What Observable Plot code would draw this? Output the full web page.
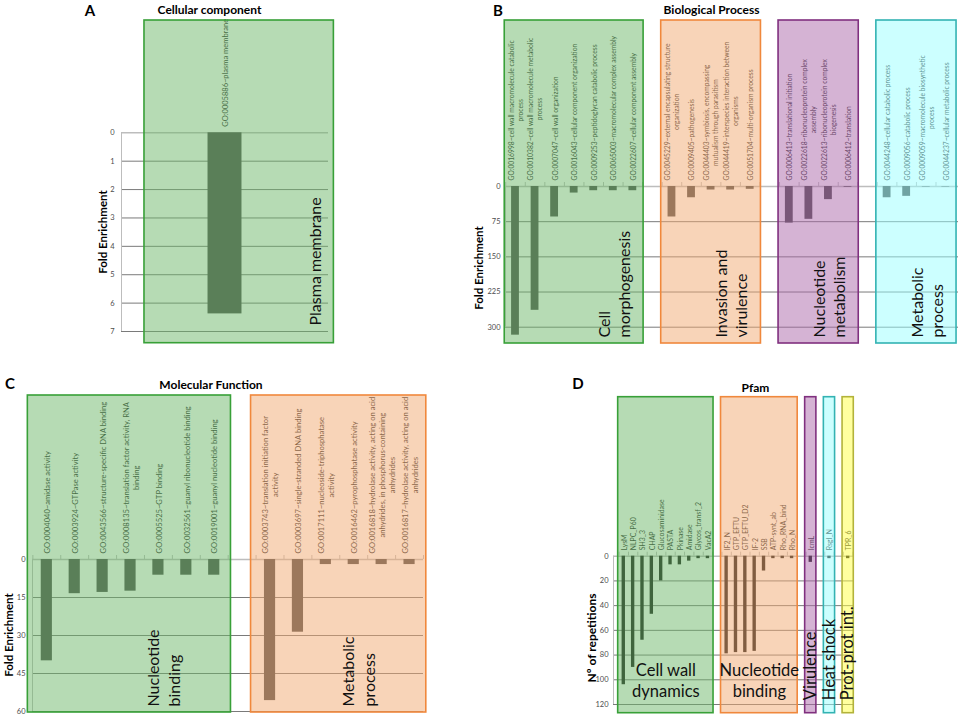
<!DOCTYPE html>
<html><head><meta charset="utf-8">
<script src="https://cdn.jsdelivr.net/npm/d3@7"></script>
<script src="https://cdn.jsdelivr.net/npm/@observablehq/plot@0.6"></script>
<style>
html,body{margin:0;padding:0;background:#fff;}
#fig{position:relative;width:964px;height:721px;overflow:hidden;font-family:Lato,"DejaVu Sans",sans-serif;}
#fig svg{position:absolute;left:0;top:0;}
.t{position:absolute;white-space:nowrap;transform:translate(-50%,-50%);font-weight:700;color:#000;line-height:1;}
.r{transform:translate(-50%,-50%) rotate(-90deg);}
</style></head><body>
<div id="fig">
 <div class="t" style="left:90px;top:10px;font-size:15px">A</div>
 <div class="t" style="left:209.5px;top:10px;font-size:12px">Cellular component</div>
 <div class="t r" style="left:103px;top:232px;font-size:11.5px">Fold Enrichment</div>
 <div class="t" style="left:498px;top:10px;font-size:15px">B</div>
 <div class="t" style="left:711.5px;top:10px;font-size:12px">Biological Process</div>
 <div class="t r" style="left:479px;top:268px;font-size:11.5px">Fold Enrichment</div>
 <div class="t" style="left:10px;top:383px;font-size:15px">C</div>
 <div class="t" style="left:211px;top:385px;font-size:12px">Molecular Function</div>
 <div class="t r" style="left:9px;top:635px;font-size:11.5px">Fold Enrichment</div>
 <div class="t" style="left:578px;top:383px;font-size:15px">D</div>
 <div class="t" style="left:755.5px;top:387.5px;font-size:12px">Pfam</div>
 <div class="t r" style="left:592px;top:638px;font-size:12px">Nº of repetitions</div>
</div>
<script>
// ---------- DATA ----------
// A: Cellular component
const ccLabels = ["GO:0005886~plasma membrane"];
const ccValues = [6.38];
const ccGroupNames = ["Plasma membrane"];
const ccGroupSizes = [1];
const ccGroupKeys = ["green"];
const ccTicks = [0, 1, 2, 3, 4, 5, 6, 7];

// B: Biological Process
const bpLabels = [
  "GO:0016998~cell wall macromolecule catabolic\nprocess",
  "GO:0010382~cell wall macromolecule metabolic\nprocess",
  "GO:0007047~cell wall organization",
  "GO:0016043~cellular component organization",
  "GO:0009253~peptidoglycan catabolic process",
  "GO:0065003~macromolecular complex assembly",
  "GO:0022607~cellular component assembly",
  "GO:0045229~external encapsulating structure\norganization",
  "GO:0009405~pathogenesis",
  "GO:0044403~symbiosis, encompassing\nmutualism through parasitism",
  "GO:0044419~interspecies interaction between\norganisms",
  "GO:0051704~multi-organism process",
  "GO:0006413~translational initiation",
  "GO:0022618~ribonucleoprotein complex\nassembly",
  "GO:0022613~ribonucleoprotein complex\nbiogenesis",
  "GO:0006412~translation",
  "GO:0044248~cellular catabolic process",
  "GO:0009056~catabolic process",
  "GO:0009059~macromolecule biosynthetic\nprocess",
  "GO:0044237~cellular metabolic process"
];
const bpValues = [317, 264, 65, 14, 9, 9, 9, 65, 24, 7.5, 7.5, 6, 78, 70, 28, 1.5, 24, 21, 1, 1];
const bpGroupNames = ["Cell\nmorphogenesis", "Invasion and\nvirulence", "Nucleotide\nmetabolism", "Metabolic\nprocess"];
const bpGroupSizes = [7, 5, 4, 4];
const bpGroupKeys = ["green", "orange", "purple", "cyan"];
const bpTicks = [0, 75, 150, 225, 300];

// C: Molecular Function
const mfLabels = [
  "GO:0004040~amidase activity",
  "GO:0003924~GTPase activity",
  "GO:0043566~structure-specific DNA binding",
  "GO:0008135~translation factor activity, RNA\nbinding",
  "GO:0005525~GTP binding",
  "GO:0032561~guanyl ribonucleotide binding",
  "GO:0019001~guanyl nucleotide binding",
  "GO:0003743~translation initiation factor\nactivity",
  "GO:0003697~single-stranded DNA binding",
  "GO:0017111~nucleoside-triphosphatase\nactivity",
  "GO:0016462~pyrophosphatase activity",
  "GO:0016818~hydrolase activity, acting on acid\nanhydrides, in phosphorus-containing\nanhydrides",
  "GO:0016817~hydrolase activity, acting on acid\nanhydrides"
];
const mfValues = [40, 13.5, 13, 12.5, 6.2, 6.2, 6.2, 55.7, 28.7, 2, 2, 2, 2];
const mfGroupNames = ["Nucleotide\nbinding", "Metabolic\nprocess"];
const mfGroupSizes = [7, 6];
const mfGroupKeys = ["green", "orange"];
const mfTicks = [0, 15, 30, 45, 60];

// D: Pfam
const pfLabels = ["LysM", "NLPC_P60", "SH3_3", "CHAP", "Glucosaminidase", "PASTA", "Pkinase", "Amidase", "Glycos_transf_2", "VacA2",
  "IF2_N", "GTP_EFTU", "GTP_EFTU_D2", "IF-2", "SSB", "ATP-synt_ab", "Rho_RNA_bind", "Rho_N",
  "IcmL", "RsgI_N", "TPR_6"];
const pfValues = [104, 90, 68, 47, 20, 7, 7, 4, 2, 2, 79, 78, 78, 77, 12, 2, 2, 2, 5, 2, 2];
const pfGroupNames = ["Cell wall\ndynamics", "Nucleotide\nbinding", "Virulence", "Heat shock", "Prot-prot int."];
const pfGroupSizes = [10, 8, 1, 1, 1];
const pfGroupKeys = ["green", "orange", "purple", "cyan", "yellow"];
const pfTicks = [0, 20, 40, 60, 80, 100, 120];

// ---------- STYLE ----------
const palette = {
  green:  {fill: "#6db769", stroke: "#38a038"},
  orange: {fill: "#f1a971", stroke: "#f0883c"},
  purple: {fill: "#ab67a9", stroke: "#80307f"},
  cyan:   {fill: "#99ffff", stroke: "#33b3b3"},
  yellow: {fill: "#ffff40", stroke: "#b3b33a"}
};

const ctx = document.createElement("canvas").getContext("2d");
function textWidth(s, size) {
  ctx.font = `${size}px Lato`;
  return d3.max(s.split("\n"), l => ctx.measureText(l).width);
}

function panel(c) {
  const ppu = (c.refPx - c.zeroPx) / c.refTick;
  const yDomain = [(c.frame.top - c.zeroPx) / ppu, (c.frame.bottom - c.zeroPx) / ppu];
  const bars = [], groups = [];
  let i = 0;
  c.sizes.forEach((n, g) => {
    const first = i + g;
    for (let k = 0; k < n; k++, i++) {
      bars.push({label: c.labels[i], value: c.values[i], slot: i + g, key: c.keys[g], w: textWidth(c.labels[i], c.labelSize)});
    }
    groups.push({name: c.names[g], key: c.keys[g], first, last: first + n - 1, n});
  });
  const nSlots = d3.max(bars, d => d.slot) + 1;
  const bounds = d3.range(nSlots + 1).map(s => s - 0.5);
  const gap = 6;
  const marks = [
    Plot.ruleY(c.ticks.filter(t => t !== 0), {stroke: "#7a7a7a", strokeWidth: 1}),
    Plot.ruleY([0], {stroke: "#bdbdbd", strokeWidth: 1.6}),
    Plot.ruleX([c.xDomain[0]], {y1: 0, y2: d3.max(c.ticks), stroke: "#bdbdbd"})
  ];
  if (c.catTicks) marks.push(Plot.ruleX(bounds, {y1: 0, y2: -4 / ppu, stroke: "#bdbdbd"}));
  marks.push(
    Plot.rect(bars, {x1: d => d.slot - c.barHalf, x2: d => d.slot + c.barHalf, y1: 0, y2: "value", fill: c.barColor}),
    Plot.text(bars, {x: "slot", y: d => -(gap + d.w / 2) / ppu, text: "label", rotate: -90,
      textAnchor: "middle", lineAnchor: "middle", fontSize: c.labelSize, lineHeight: c.labelLH, fill: "#1c1c1c"}),
    Plot.rect(groups, {x1: d => d.first - 0.5 - c.boxPad[0], x2: d => d.last + 0.5 + c.boxPad[1],
      y1: yDomain[0], y2: yDomain[1], fill: d => palette[d.key].fill, fillOpacity: 0.5,
      stroke: d => palette[d.key].stroke, strokeWidth: 1.6})
  );
  const gl = c.gl;
  if (gl.mode === "rot") {
    marks.push(Plot.text(groups, {x: d => d.last + gl.offset, y: yDomain[1], text: "name", rotate: -90,
      textAnchor: "start", lineAnchor: "middle", dy: gl.dy, fontSize: gl.size, lineHeight: gl.lh, fill: "#111"}));
  } else {
    marks.push(
      Plot.text(groups.filter(d => d.n > 1), {x: d => (d.first + d.last) / 2, y: yDomain[1], text: "name",
        textAnchor: "middle", lineAnchor: "middle", dy: gl.dyH, fontSize: gl.size, lineHeight: gl.lh, fill: "#111"}),
      Plot.text(groups.filter(d => d.n === 1), {x: "first", y: yDomain[1], text: "name", rotate: -90,
        textAnchor: "start", lineAnchor: "middle", dy: gl.dy, fontSize: gl.size, fill: "#111"})
    );
  }
  marks.push(Plot.axisY({ticks: c.ticks, tickSize: 0, tickPadding: c.tickPadding, fontSize: 7.5, fill: "#4d4d4d", label: null}));
  return Plot.plot({
    width: 964, height: 721,
    marginLeft: c.frame.left, marginRight: 964 - c.frame.right,
    marginTop: c.frame.top, marginBottom: 721 - c.frame.bottom,
    x: {type: "linear", domain: c.xDomain, axis: null},
    y: {type: "linear", domain: yDomain, reverse: true, axis: null, label: null},
    color: {type: "identity"},
    style: {background: "transparent", overflow: "visible", fontFamily: "Lato, sans-serif"},
    marks
  });
}

const fig = document.getElementById("fig");

fig.appendChild(panel({
  labels: ccLabels, values: ccValues, sizes: ccGroupSizes, keys: ccGroupKeys, names: ccGroupNames, ticks: ccTicks,
  frame: {left: 121, right: 328, top: 20, bottom: 342.7}, zeroPx: 132.3, refTick: 7, refPx: 331,
  xDomain: [-0.5, 0.5], barHalf: 0.082, barColor: "#474747", labelSize: 7.5, labelLH: 1.35,
  boxPad: [-0.111, 0.026], catTicks: false, tickPadding: 7,
  gl: {mode: "rot", offset: 0.43, dy: -17.7, size: 16, lh: 1.3}
}));

fig.appendChild(panel({
  labels: bpLabels, values: bpValues, sizes: bpGroupSizes, keys: bpGroupKeys, names: bpGroupNames, ticks: bpTicks,
  frame: {left: 505, right: 958, top: 20, bottom: 343}, zeroPx: 186, refTick: 300, refPx: 326.7,
  xDomain: [-0.511, 22.65], barHalf: 0.2, barColor: "#474747", labelSize: 6.7, labelLH: 1.35,
  boxPad: [0.05, 0.05], catTicks: true, tickPadding: 5,
  gl: {mode: "rot", offset: -1.0, dy: -6, size: 16, lh: 1.27}
}));

fig.appendChild(panel({
  labels: mfLabels, values: mfValues, sizes: mfGroupSizes, keys: mfGroupKeys, names: mfGroupNames, ticks: mfTicks,
  frame: {left: 32, right: 423, top: 395, bottom: 712}, zeroPx: 559, refTick: 60, refPx: 711,
  xDomain: [-0.513, 13.5], barHalf: 0.2, barColor: "#474747", labelSize: 7.6, labelLH: 1.32,
  boxPad: [0.18, 0.1], catTicks: true, tickPadding: 7,
  gl: {mode: "rot", offset: -1.85, dy: -6, size: 16, lh: 1.3}
}));

fig.appendChild(panel({
  labels: pfLabels, values: pfValues, sizes: pfGroupSizes, keys: pfGroupKeys, names: pfGroupNames, ticks: pfTicks,
  frame: {left: 613, right: 853, top: 396.7, bottom: 712.7}, zeroPx: 555.7, refTick: 120, refPx: 704,
  xDomain: [-1.10, 24.57], barHalf: 0.18, barColor: "#111111", labelSize: 6.9, labelLH: 1.3,
  boxPad: [0.1, 0.1], catTicks: true, tickPadding: 5,
  gl: {mode: "mixed", dy: -13, dyH: -33, size: 16.5, lh: 1.27}
}));
</script></body></html>
